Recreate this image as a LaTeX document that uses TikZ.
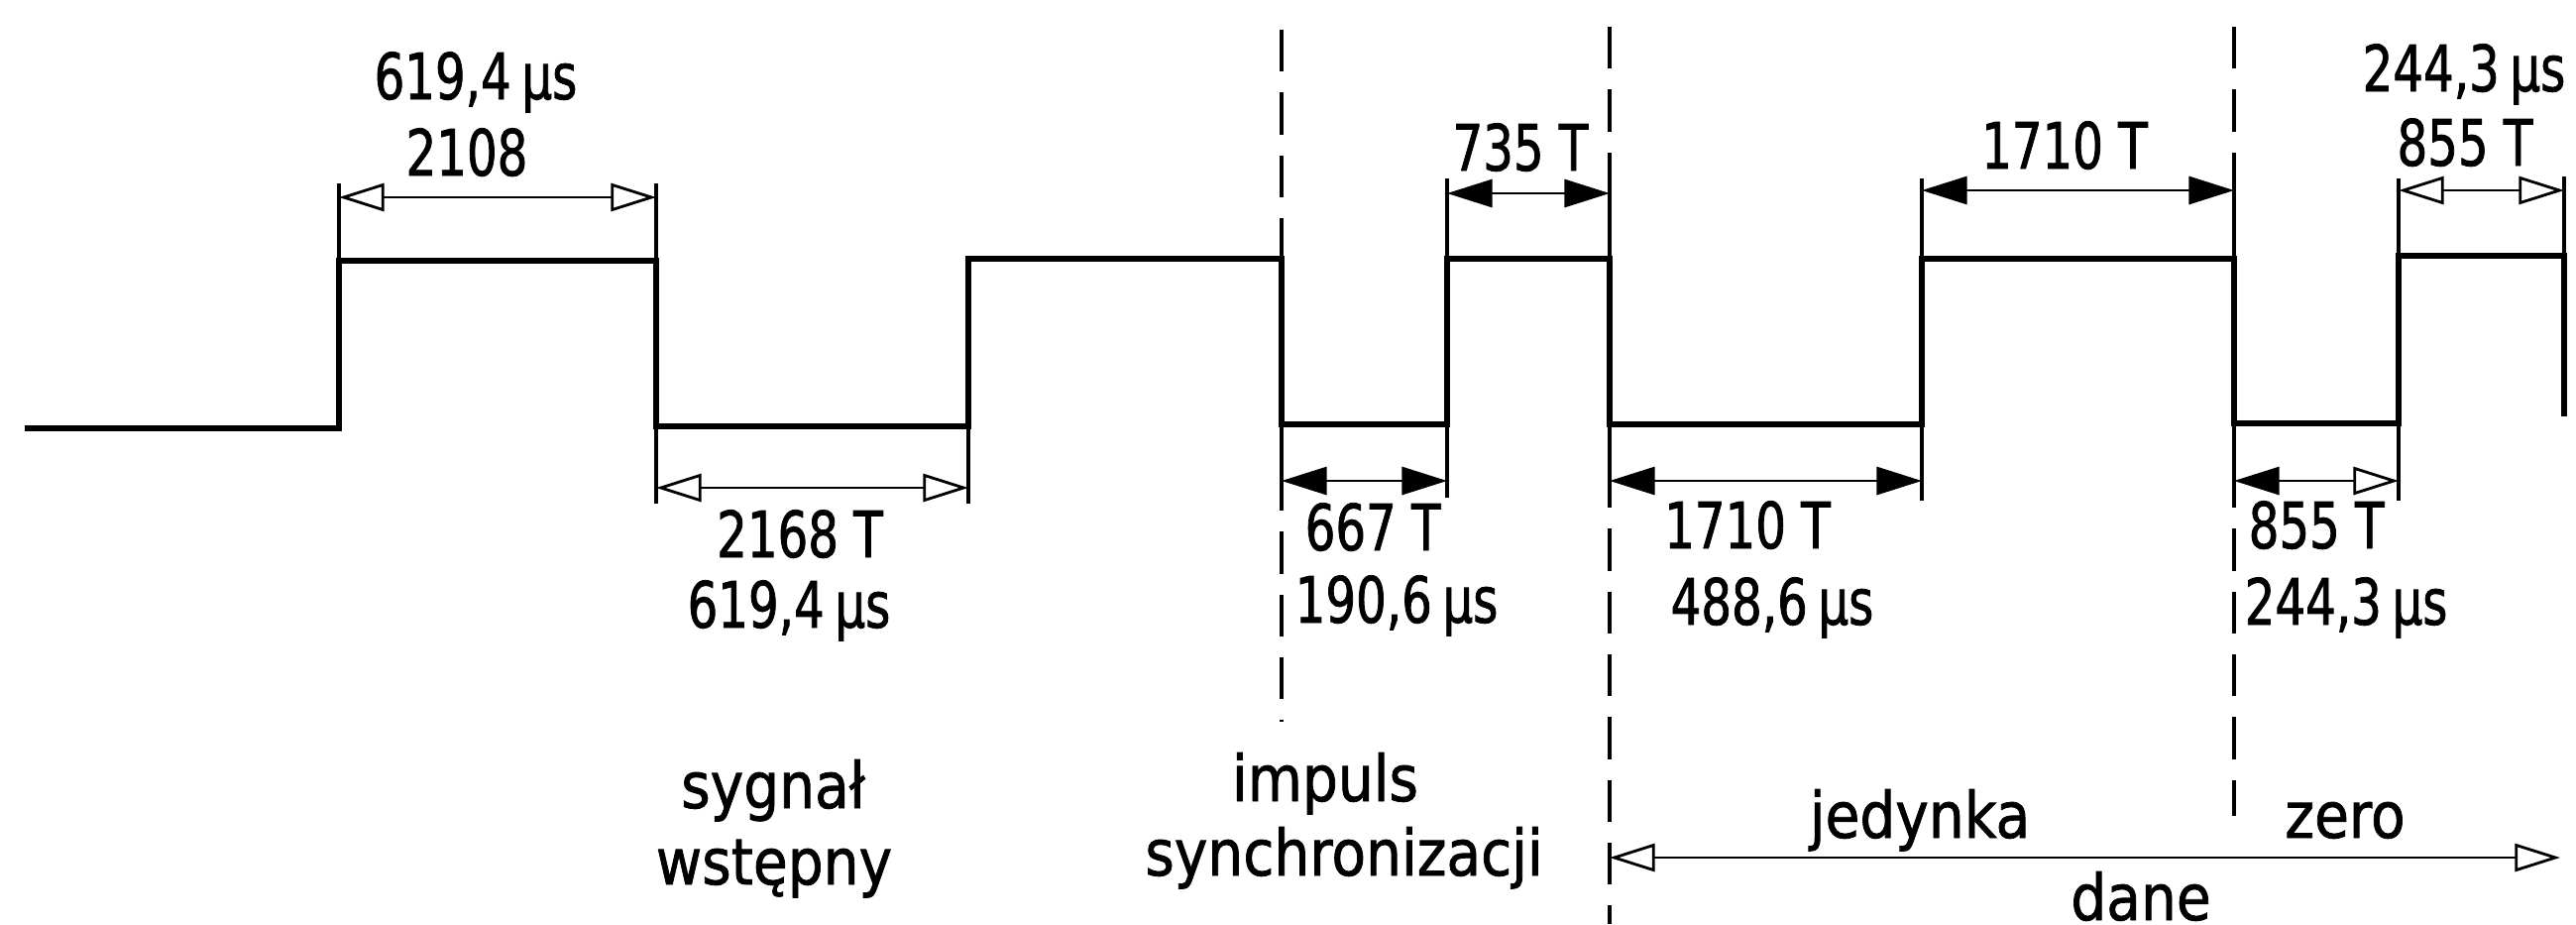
\documentclass[tikz,border=0pt]{standalone}
\usepackage{fontspec}
\setmainfont{DejaVu Sans}[FakeStretch=0.75,FakeBold=1.2]
\newfontfamily\lblfont{DejaVu Sans}[FakeStretch=0.88,FakeBold=1.2]
\usetikzlibrary{arrows.meta}
\begin{document}
\begin{tikzpicture}[x=0.01cm,y=-0.01cm,
  signal/.style={line width=1.6pt, line join=miter},
  extline/.style={line width=0.9pt},
  dimline/.style={line width=0.8pt},
  odim/.style={dimline, {Triangle[open,length=13pt,width=8pt]}-{Triangle[open,length=13pt,width=8pt]}},
  fdim/.style={dimline, {Triangle[length=13pt,width=8pt]}-{Triangle[length=13pt,width=8pt]}},
  mdim/.style={dimline, {Triangle[length=13pt,width=8pt]}-{Triangle[open,length=13pt,width=8pt]}},
  sepline/.style={line width=1pt, dash pattern=on 12pt off 6pt},
  num/.style={inner sep=0pt, anchor=base, font=\fontsize{18.3pt}{22pt}\selectfont},
  lbl/.style={inner sep=0pt, anchor=base, font=\lblfont\fontsize{18.3pt}{22pt}\selectfont}
]
\useasboundingbox (0,0) rectangle (2599,932);

% separators
\coordinate (v1t) at (1293,30);  \coordinate (v1b) at (1293,728);
\coordinate (v2t) at (1624,27);  \coordinate (v2b) at (1624,932);
\coordinate (v3t) at (2254,27);  \coordinate (v3b) at (2254,823);
\draw[sepline] (v1t) -- (v1b);
\draw[sepline] (v2t) -- (v2b);
\draw[sepline] (v3t) -- (v3b);

% signal
\coordinate (s0) at (25,432);
\coordinate (s1) at (342,432);
\coordinate (s2) at (342,263);
\coordinate (s3) at (662,263);
\coordinate (s4) at (662,430);
\coordinate (s5) at (977,430);
\coordinate (s6) at (977,261);
\coordinate (s7) at (1293,261);
\coordinate (s8) at (1293,428);
\coordinate (s9) at (1460,428);
\coordinate (s10) at (1460,261);
\coordinate (s11) at (1624,261);
\coordinate (s12) at (1624,428);
\coordinate (s13) at (1939,428);
\coordinate (s14) at (1939,261);
\coordinate (s15) at (2254,261);
\coordinate (s16) at (2254,427);
\coordinate (s17) at (2420,427);
\coordinate (s18) at (2420,258);
\coordinate (s19) at (2587,258);
\coordinate (s20) at (2587,420);
\draw[signal] (s0) -- (s1) -- (s2) -- (s3) -- (s4) -- (s5) -- (s6) -- (s7) -- (s8) -- (s9) -- (s10) -- (s11) -- (s12) -- (s13) -- (s14) -- (s15) -- (s16) -- (s17) -- (s18) -- (s19) -- (s20);

% extension lines
\coordinate (e2) at (342,185);   \draw[extline] (e2) -- (s2);
\coordinate (e3) at (662,185);   \draw[extline] (e3) -- (s3);
\coordinate (e4) at (662,508);   \draw[extline] (s4) -- (e4);
\coordinate (e5) at (977,508);   \draw[extline] (s5) -- (e5);
\coordinate (e8) at (1293,502);  \draw[extline] (s8) -- (e8);
\coordinate (e9) at (1460,502);  \draw[extline] (s9) -- (e9);
\coordinate (e10) at (1460,180); \draw[extline] (e10) -- (s10);
\coordinate (e11) at (1624,180); \draw[extline] (e11) -- (s11);
\coordinate (e12) at (1624,505); \draw[extline] (s12) -- (e12);
\coordinate (e13) at (1939,505); \draw[extline] (s13) -- (e13);
\coordinate (e14) at (1939,180); \draw[extline] (e14) -- (s14);
\coordinate (e15) at (2254,178); \draw[extline] (e15) -- (s15);
\coordinate (e16) at (2254,505); \draw[extline] (s16) -- (e16);
\coordinate (e17) at (2420,505); \draw[extline] (s17) -- (e17);
\coordinate (e18) at (2420,180); \draw[extline] (e18) -- (s18);
\coordinate (e19) at (2587,178); \draw[extline] (e19) -- (s19);

% dimension arrows
\coordinate (a1l) at (342,199);  \coordinate (a1r) at (662,199);
\draw[odim] (a1l) -- (a1r);
\coordinate (a2l) at (662,492);  \coordinate (a2r) at (977,492);
\draw[odim] (a2l) -- (a2r);
\coordinate (a3l) at (1293,485); \coordinate (a3r) at (1460,485);
\draw[fdim] (a3l) -- (a3r);
\coordinate (a4l) at (1460,195); \coordinate (a4r) at (1624,195);
\draw[fdim] (a4l) -- (a4r);
\coordinate (a5l) at (1624,485); \coordinate (a5r) at (1939,485);
\draw[fdim] (a5l) -- (a5r);
\coordinate (a6l) at (1939,192); \coordinate (a6r) at (2254,192);
\draw[fdim] (a6l) -- (a6r);
\coordinate (a7l) at (2254,485); \coordinate (a7r) at (2420,485);
\draw[mdim] (a7l) -- (a7r);
\coordinate (a8l) at (2420,192); \coordinate (a8r) at (2587,192);
\draw[odim] (a8l) -- (a8r);
\coordinate (a9l) at (1624,865); \coordinate (a9r) at (2583,865);
\draw[odim] (a9l) -- (a9r);

% texts
\node[num] (t1a) at (480,100) {619,4\,µs};
\node[num] (t1b) at (471,177) {2108};
\node[num] (t2a) at (807,562) {2168 T};
\node[num] (t2b) at (796,633) {619,4\,µs};
\node[num, anchor=base west] (t3a) at (1316,555) {667 T};
\node[num, anchor=base west] (t3b) at (1306,628) {190,6\,µs};
\node[num] (t4) at (1534,172) {735 T};
\node[num] (t5a) at (1763,553) {1710 T};
\node[num] (t5b) at (1788,630) {488,6\,µs};
\node[num] (t6) at (2083,170) {1710 T};
\node[num, anchor=base west] (t7a) at (2268,553) {855 T};
\node[num, anchor=base west] (t7b) at (2264,630) {244,3\,µs};
\node[num] (t8a) at (2486,92) {244,3\,µs};
\node[num] (t8b) at (2487,167) {855 T};

\node[lbl] (l1a) at (780,815) {sygnał};
\node[lbl] (l1b) at (781,892) {wstępny};
\node[lbl] (l2a) at (1337,808) {impuls};
\node[lbl] (l2b) at (1356,883) {synchronizacji};
\node[lbl] (l3) at (1937,845) {jedynka};
\node[lbl] (l4) at (2366,845) {zero};
\node[lbl] (l5) at (2160,928) {dane};
\end{tikzpicture}
\end{document}
